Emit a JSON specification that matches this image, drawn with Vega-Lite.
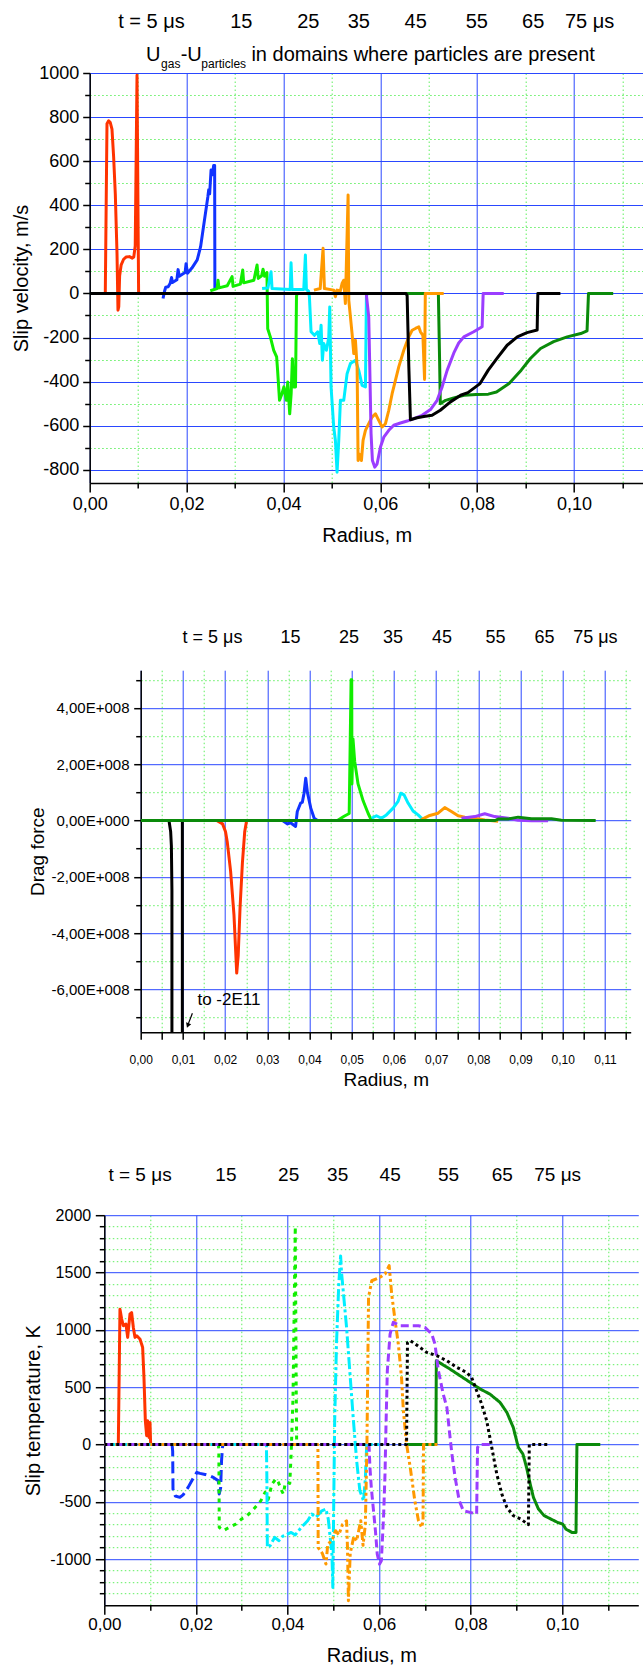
{
 "$schema": "https://vega.github.io/schema/vega-lite/v6.json",
 "background": "white",
 "padding": {"left": 0, "top": 11, "right": 0, "bottom": 0},
 "config": {
  "view": {"stroke": null},
  "axis": {"labelFont": "Liberation Sans", "titleFont": "Liberation Sans", "titleFontWeight": "normal", "labelColor": "#000", "titleColor": "#000", "labelFlush": false, "labelOverlap": false, "labelBound": false, "tickColor": "#000", "domainColor": "#000", "tickWidth": 1.5, "domainWidth": 1.5, "gridOpacity": 1},
  "text": {"font": "Liberation Sans", "color": "#000"},
  "line": {"strokeJoin": "round"}
 },
 "datasets": {
  "p1": [
   {"t":"t75","r":0,"v":0},{"t":"t75","r":0.072,"v":0},{"t":"t75","r":0.07225,"v":-300},{"t":"t75","r":0.0724,"v":-500},{"t":"t75","r":0.0735,"v":-485},{"t":"t75","r":0.075,"v":-475},{"t":"t75","r":0.0773,"v":-462},{"t":"t75","r":0.0798,"v":-459},{"t":"t75","r":0.0823,"v":-457},{"t":"t75","r":0.084,"v":-447},{"t":"t75","r":0.0866,"v":-409},{"t":"t75","r":0.0891,"v":-348},{"t":"t75","r":0.091,"v":-295},{"t":"t75","r":0.0931,"v":-250},{"t":"t75","r":0.0958,"v":-219},{"t":"t75","r":0.0986,"v":-197},{"t":"t75","r":0.1014,"v":-182},{"t":"t75","r":0.1027,"v":-170},{"t":"t75","r":0.103,"v":0},{"t":"t75","r":0.1081,"v":0},
   {"t":"t05","r":0.003,"v":0},{"t":"t05","r":0.00322,"v":0},{"t":"t05","r":0.00357,"v":770},{"t":"t05","r":0.00391,"v":783},{"t":"t05","r":0.00425,"v":775},{"t":"t05","r":0.0046,"v":745},{"t":"t05","r":0.00494,"v":620},{"t":"t05","r":0.00529,"v":450},{"t":"t05","r":0.00555,"v":250},{"t":"t05","r":0.00564,"v":180},{"t":"t05","r":0.00584,"v":-76},{"t":"t05","r":0.006,"v":-60},{"t":"t05","r":0.00618,"v":80},{"t":"t05","r":0.0065,"v":130},{"t":"t05","r":0.007,"v":155},{"t":"t05","r":0.0075,"v":165},{"t":"t05","r":0.0082,"v":167},{"t":"t05","r":0.0088,"v":160},{"t":"t05","r":0.0091,"v":165},{"t":"t05","r":0.0094,"v":215},{"t":"t05","r":0.00977,"v":990},{"t":"t05","r":0.0101,"v":0},
   {"t":"t15","r":0.01514,"v":-23},{"t":"t15","r":0.01545,"v":10},{"t":"t15","r":0.0157,"v":28},{"t":"t15","r":0.0162,"v":30},{"t":"t15","r":0.0166,"v":45},{"t":"t15","r":0.0169,"v":72},{"t":"t15","r":0.0171,"v":50},{"t":"t15","r":0.0175,"v":55},{"t":"t15","r":0.018,"v":62},{"t":"t15","r":0.01825,"v":108},{"t":"t15","r":0.0185,"v":78},{"t":"t15","r":0.0192,"v":88},{"t":"t15","r":0.0197,"v":95},{"t":"t15","r":0.0199,"v":135},{"t":"t15","r":0.0202,"v":92},{"t":"t15","r":0.0211,"v":115},{"t":"t15","r":0.0222,"v":152},{"t":"t15","r":0.0229,"v":212},{"t":"t15","r":0.0237,"v":333},{"t":"t15","r":0.0244,"v":439},{"t":"t15","r":0.02457,"v":470},{"t":"t15","r":0.02477,"v":452},{"t":"t15","r":0.02506,"v":560},{"t":"t15","r":0.02533,"v":538},{"t":"t15","r":0.0256,"v":580},{"t":"t15","r":0.0258,"v":580},{"t":"t15","r":0.02585,"v":15},
   {"t":"t25","r":0.0249,"v":12},{"t":"t25","r":0.0263,"v":22},{"t":"t25","r":0.0265,"v":60},{"t":"t25","r":0.0267,"v":25},{"t":"t25","r":0.0284,"v":35},{"t":"t25","r":0.0294,"v":76},{"t":"t25","r":0.0296,"v":32},{"t":"t25","r":0.0311,"v":42},{"t":"t25","r":0.0316,"v":106},{"t":"t25","r":0.0318,"v":48},{"t":"t25","r":0.0339,"v":60},{"t":"t25","r":0.03456,"v":129},{"t":"t25","r":0.0348,"v":68},{"t":"t25","r":0.0355,"v":80},{"t":"t25","r":0.0358,"v":110},{"t":"t25","r":0.0361,"v":78},{"t":"t25","r":0.0366,"v":95},{"t":"t25","r":0.03676,"v":-160},{"t":"t25","r":0.0373,"v":-197},{"t":"t25","r":0.038,"v":-258},{"t":"t25","r":0.0386,"v":-288},{"t":"t25","r":0.0388,"v":-349},{"t":"t25","r":0.0392,"v":-485},{"t":"t25","r":0.0397,"v":-455},{"t":"t25","r":0.0401,"v":-424},{"t":"t25","r":0.0406,"v":-485},{"t":"t25","r":0.0409,"v":-402},{"t":"t25","r":0.0413,"v":-546},{"t":"t25","r":0.0416,"v":-455},{"t":"t25","r":0.04185,"v":-296},{"t":"t25","r":0.0421,"v":-424},{"t":"t25","r":0.0425,"v":-424},{"t":"t25","r":0.0427,"v":-15},{"t":"t25","r":0.0428,"v":0},
   {"t":"t35","r":0.0356,"v":22},{"t":"t35","r":0.0368,"v":25},{"t":"t35","r":0.03745,"v":98},{"t":"t35","r":0.03765,"v":22},{"t":"t35","r":0.0414,"v":18},{"t":"t35","r":0.04158,"v":139},{"t":"t35","r":0.04178,"v":18},{"t":"t35","r":0.0442,"v":18},{"t":"t35","r":0.04454,"v":174},{"t":"t35","r":0.04475,"v":18},{"t":"t35","r":0.0452,"v":10},{"t":"t35","r":0.04537,"v":-15},{"t":"t35","r":0.04571,"v":-174},{"t":"t35","r":0.0464,"v":-190},{"t":"t35","r":0.04709,"v":-174},{"t":"t35","r":0.0475,"v":-227},{"t":"t35","r":0.04778,"v":-144},{"t":"t35","r":0.04805,"v":-303},{"t":"t35","r":0.04833,"v":-227},{"t":"t35","r":0.04888,"v":-258},{"t":"t35","r":0.04936,"v":-200},{"t":"t35","r":0.04957,"v":-61},{"t":"t35","r":0.04984,"v":-424},{"t":"t35","r":0.05039,"v":-606},{"t":"t35","r":0.05074,"v":-667},{"t":"t35","r":0.05108,"v":-811},{"t":"t35","r":0.05143,"v":-667},{"t":"t35","r":0.05177,"v":-485},{"t":"t35","r":0.05246,"v":-485},{"t":"t35","r":0.05315,"v":-364},{"t":"t35","r":0.05384,"v":-318},{"t":"t35","r":0.05487,"v":-303},{"t":"t35","r":0.05556,"v":-349},{"t":"t35","r":0.05625,"v":-417},{"t":"t35","r":0.05694,"v":-424},{"t":"t35","r":0.05714,"v":-15},{"t":"t35","r":0.05728,"v":0},
   {"t":"t45","r":0.0463,"v":15},{"t":"t45","r":0.0476,"v":22},{"t":"t45","r":0.04819,"v":205},{"t":"t45","r":0.04847,"v":22},{"t":"t45","r":0.0504,"v":15},{"t":"t45","r":0.05074,"v":-15},{"t":"t45","r":0.05108,"v":15},{"t":"t45","r":0.05177,"v":12},{"t":"t45","r":0.05211,"v":45},{"t":"t45","r":0.05246,"v":60},{"t":"t45","r":0.0528,"v":-46},{"t":"t45","r":0.05336,"v":447},{"t":"t45","r":0.0535,"v":-30},{"t":"t45","r":0.05384,"v":-106},{"t":"t45","r":0.05418,"v":-182},{"t":"t45","r":0.05453,"v":-273},{"t":"t45","r":0.05487,"v":-212},{"t":"t45","r":0.05522,"v":-333},{"t":"t45","r":0.05542,"v":-758},{"t":"t45","r":0.05577,"v":-730},{"t":"t45","r":0.05611,"v":-758},{"t":"t45","r":0.05645,"v":-667},{"t":"t45","r":0.05694,"v":-621},{"t":"t45","r":0.05762,"v":-591},{"t":"t45","r":0.05831,"v":-561},{"t":"t45","r":0.059,"v":-546},{"t":"t45","r":0.05969,"v":-576},{"t":"t45","r":0.06038,"v":-606},{"t":"t45","r":0.06107,"v":-591},{"t":"t45","r":0.06176,"v":-530},{"t":"t45","r":0.06245,"v":-455},{"t":"t45","r":0.06313,"v":-394},{"t":"t45","r":0.06382,"v":-333},{"t":"t45","r":0.06486,"v":-258},{"t":"t45","r":0.06589,"v":-197},{"t":"t45","r":0.06658,"v":-167},{"t":"t45","r":0.06727,"v":-159},{"t":"t45","r":0.06796,"v":-152},{"t":"t45","r":0.0683,"v":-174},{"t":"t45","r":0.0688,"v":-190},{"t":"t45","r":0.06915,"v":-390},{"t":"t45","r":0.0693,"v":0},{"t":"t45","r":0.0731,"v":0},
   {"t":"t55","r":0.0571,"v":0},{"t":"t55","r":0.05762,"v":-106},{"t":"t55","r":0.05783,"v":-333},{"t":"t55","r":0.0581,"v":-636},{"t":"t55","r":0.05838,"v":-758},{"t":"t55","r":0.05887,"v":-788},{"t":"t55","r":0.05935,"v":-773},{"t":"t55","r":0.06004,"v":-697},{"t":"t55","r":0.06073,"v":-652},{"t":"t55","r":0.06176,"v":-621},{"t":"t55","r":0.06279,"v":-598},{"t":"t55","r":0.06417,"v":-588},{"t":"t55","r":0.06555,"v":-579},{"t":"t55","r":0.06692,"v":-568},{"t":"t55","r":0.06864,"v":-553},{"t":"t55","r":0.07037,"v":-527},{"t":"t55","r":0.07174,"v":-485},{"t":"t55","r":0.07278,"v":-424},{"t":"t55","r":0.07381,"v":-349},{"t":"t55","r":0.07519,"v":-270},{"t":"t55","r":0.0762,"v":-225},{"t":"t55","r":0.07726,"v":-197},{"t":"t55","r":0.0793,"v":-174},{"t":"t55","r":0.08104,"v":-151},{"t":"t55","r":0.08125,"v":0},{"t":"t55","r":0.0855,"v":0},
   {"t":"t65","r":0,"v":0},{"t":"t65","r":0.0653,"v":0},{"t":"t65","r":0.06555,"v":-10},{"t":"t65","r":0.0659,"v":-333},{"t":"t65","r":0.06623,"v":-573},{"t":"t65","r":0.0676,"v":-564},{"t":"t65","r":0.069,"v":-558},{"t":"t65","r":0.0707,"v":-553},{"t":"t65","r":0.0724,"v":-530},{"t":"t65","r":0.0745,"v":-492},{"t":"t65","r":0.0766,"v":-462},{"t":"t65","r":0.0781,"v":-450},{"t":"t65","r":0.0806,"v":-409},{"t":"t65","r":0.0823,"v":-348},{"t":"t65","r":0.0841,"v":-295},{"t":"t65","r":0.0862,"v":-235},{"t":"t65","r":0.0883,"v":-197},{"t":"t65","r":0.0903,"v":-178},{"t":"t65","r":0.0924,"v":-166},{"t":"t65","r":0.09254,"v":0},{"t":"t65","r":0.0972,"v":0}
  ],
  "p2": [
   {"t":"t65","r":0,"v":0},{"t":"t65","r":0.0067,"v":0},{"t":"t65","r":0.0071,"v":-4e7},{"t":"t65","r":0.00727,"v":-9e7},{"t":"t65","r":0.0074,"v":-2.5e8},{"t":"t65","r":0.0075,"v":-2e11},{"t":"t65","r":0.0098,"v":-2e11},{"t":"t65","r":0.00987,"v":0},{"t":"t65","r":0.0105,"v":0},
   {"t":"t05","r":0.018,"v":0},{"t":"t05","r":0.0194,"v":-1.2e7},{"t":"t05","r":0.0201,"v":-4e7},{"t":"t05","r":0.0205,"v":-7.5e7},{"t":"t05","r":0.0213,"v":-1.8e8},{"t":"t05","r":0.0221,"v":-3.35e8},{"t":"t05","r":0.02275,"v":-5.42e8},{"t":"t05","r":0.0231,"v":-4.8e8},{"t":"t05","r":0.02354,"v":-3.1e8},{"t":"t05","r":0.0241,"v":-1.5e8},{"t":"t05","r":0.02464,"v":-4e7},{"t":"t05","r":0.0251,"v":0},
   {"t":"t15","r":0.0336,"v":0},{"t":"t15","r":0.0348,"v":-1.2e7},{"t":"t15","r":0.0355,"v":-8e6},{"t":"t15","r":0.0367,"v":-2.1e7},{"t":"t15","r":0.0371,"v":3.2e7},{"t":"t15","r":0.0379,"v":6.2e7},{"t":"t15","r":0.0383,"v":6.5e7},{"t":"t15","r":0.0387,"v":9.7e7},{"t":"t15","r":0.0391,"v":1.5e8},{"t":"t15","r":0.0395,"v":1.0e8},{"t":"t15","r":0.0403,"v":4.4e7},{"t":"t15","r":0.0411,"v":8e6},{"t":"t15","r":0.0419,"v":0},
   {"t":"t25","r":0.0466,"v":0},{"t":"t25","r":0.0482,"v":1.5e7},{"t":"t25","r":0.0494,"v":2.5e7},{"t":"t25","r":0.04985,"v":5.0e8},{"t":"t25","r":0.05,"v":5.0e8},{"t":"t25","r":0.05005,"v":1.3e8},{"t":"t25","r":0.0503,"v":2.9e8},{"t":"t25","r":0.0507,"v":2.1e8},{"t":"t25","r":0.0515,"v":1.3e8},{"t":"t25","r":0.0527,"v":7e7},{"t":"t25","r":0.0539,"v":2.5e7},{"t":"t25","r":0.0547,"v":0},
   {"t":"t35","r":0.0547,"v":8e6},{"t":"t35","r":0.05585,"v":1.7e7},{"t":"t35","r":0.05703,"v":8e6},{"t":"t35","r":0.05822,"v":2e7},{"t":"t35","r":0.0598,"v":4.4e7},{"t":"t35","r":0.06098,"v":6.8e7},{"t":"t35","r":0.06161,"v":9.7e7},{"t":"t35","r":0.0624,"v":9.1e7},{"t":"t35","r":0.06335,"v":6.2e7},{"t":"t35","r":0.06453,"v":3.4e7},{"t":"t35","r":0.06572,"v":2e7},{"t":"t35","r":0.0669,"v":3e6},
   {"t":"t45","r":0.0665,"v":3e6},{"t":"t45","r":0.06848,"v":1.8e7},{"t":"t45","r":0.07046,"v":2.6e7},{"t":"t45","r":0.07204,"v":4.6e7},{"t":"t45","r":0.07362,"v":3.2e7},{"t":"t45","r":0.0752,"v":1.7e7},{"t":"t45","r":0.07678,"v":1.2e7},{"t":"t45","r":0.07915,"v":8e6},{"t":"t45","r":0.08152,"v":2e6},{"t":"t45","r":0.0847,"v":-3e6},
   {"t":"t55","r":0.076,"v":8e6},{"t":"t55","r":0.07915,"v":1.4e7},{"t":"t55","r":0.08152,"v":2.4e7},{"t":"t55","r":0.08389,"v":1.4e7},{"t":"t55","r":0.08705,"v":8e6},{"t":"t55","r":0.08942,"v":1e6},{"t":"t55","r":0.09258,"v":-1e6},{"t":"t55","r":0.09653,"v":-1e6},
   {"t":"t75","r":0,"v":0},{"t":"t75","r":0.084,"v":0},{"t":"t75","r":0.08468,"v":5e6},{"t":"t75","r":0.087,"v":5e6},{"t":"t75","r":0.08942,"v":1.2e7},{"t":"t75","r":0.09258,"v":6e6},{"t":"t75","r":0.09732,"v":6e6},{"t":"t75","r":0.09968,"v":1e6},{"t":"t75","r":0.1078,"v":0}
  ],
  "p3": [
   {"t":"t75","r":0.066,"v":0},{"t":"t75","r":0.0724,"v":0},{"t":"t75","r":0.0725,"v":730},{"t":"t75","r":0.0737,"v":701},{"t":"t75","r":0.0755,"v":657},{"t":"t75","r":0.0777,"v":599},{"t":"t75","r":0.0799,"v":541},{"t":"t75","r":0.0821,"v":483},{"t":"t75","r":0.0842,"v":439},{"t":"t75","r":0.0864,"v":367},{"t":"t75","r":0.0879,"v":279},{"t":"t75","r":0.0893,"v":148},{"t":"t75","r":0.0904,"v":-26},{"t":"t75","r":0.0914,"v":-84},{"t":"t75","r":0.0922,"v":-201},{"t":"t75","r":0.093,"v":-346},{"t":"t75","r":0.0937,"v":-462},{"t":"t75","r":0.0948,"v":-564},{"t":"t75","r":0.096,"v":-620},{"t":"t75","r":0.0968,"v":-637},{"t":"t75","r":0.099,"v":-681},{"t":"t75","r":0.1001,"v":-695},{"t":"t75","r":0.1008,"v":-739},{"t":"t75","r":0.1021,"v":-768},{"t":"t75","r":0.103,"v":-768},{"t":"t75","r":0.1032,"v":0},{"t":"t75","r":0.1083,"v":0},
   {"t":"t05","r":0.003,"v":0},{"t":"t05","r":0.00306,"v":0},{"t":"t05","r":0.00342,"v":1180},{"t":"t05","r":0.00379,"v":1094},{"t":"t05","r":0.00415,"v":1036},{"t":"t05","r":0.00473,"v":1050},{"t":"t05","r":0.0051,"v":934},{"t":"t05","r":0.00561,"v":1138},{"t":"t05","r":0.00597,"v":1150},{"t":"t05","r":0.00634,"v":1021},{"t":"t05","r":0.0067,"v":934},{"t":"t05","r":0.00707,"v":948},{"t":"t05","r":0.00779,"v":919},{"t":"t05","r":0.00837,"v":847},{"t":"t05","r":0.00866,"v":585},{"t":"t05","r":0.00896,"v":207},{"t":"t05","r":0.00925,"v":76},{"t":"t05","r":0.00947,"v":207},{"t":"t05","r":0.00976,"v":61},{"t":"t05","r":0.00998,"v":192},{"t":"t05","r":0.01012,"v":0},
   {"t":"t15","r":0.0148,"v":0},{"t":"t15","r":0.01493,"v":-60},{"t":"t15","r":0.015,"v":-390},{"t":"t15","r":0.0155,"v":-450},{"t":"t15","r":0.0165,"v":-462},{"t":"t15","r":0.0172,"v":-440},{"t":"t15","r":0.0179,"v":-400},{"t":"t15","r":0.0183,"v":-375},{"t":"t15","r":0.0195,"v":-288},{"t":"t15","r":0.0202,"v":-244},{"t":"t15","r":0.0209,"v":-253},{"t":"t15","r":0.022,"v":-262},{"t":"t15","r":0.0231,"v":-275},{"t":"t15","r":0.0239,"v":-290},{"t":"t15","r":0.0249,"v":-317},{"t":"t15","r":0.0251,"v":-433},{"t":"t15","r":0.0254,"v":-380},{"t":"t15","r":0.0256,"v":-142},{"t":"t15","r":0.0258,"v":-30},{"t":"t15","r":0.0259,"v":0},
   {"t":"t25","r":0.0249,"v":0},{"t":"t25","r":0.025,"v":-40},{"t":"t25","r":0.02505,"v":-300},{"t":"t25","r":0.0251,"v":-724},{"t":"t25","r":0.026,"v":-753},{"t":"t25","r":0.027,"v":-730},{"t":"t25","r":0.0287,"v":-695},{"t":"t25","r":0.03,"v":-650},{"t":"t25","r":0.0308,"v":-637},{"t":"t25","r":0.0323,"v":-579},{"t":"t25","r":0.0336,"v":-520},{"t":"t25","r":0.0342,"v":-490},{"t":"t25","r":0.0351,"v":-419},{"t":"t25","r":0.0358,"v":-480},{"t":"t25","r":0.0366,"v":-346},{"t":"t25","r":0.0375,"v":-300},{"t":"t25","r":0.038,"v":-330},{"t":"t25","r":0.0388,"v":-410},{"t":"t25","r":0.0391,"v":-433},{"t":"t25","r":0.0395,"v":-340},{"t":"t25","r":0.04,"v":-330},{"t":"t25","r":0.0405,"v":-340},{"t":"t25","r":0.0408,"v":-80},{"t":"t25","r":0.0412,"v":400},{"t":"t25","r":0.0414,"v":1000},{"t":"t25","r":0.0417,"v":1900},{"t":"t25","r":0.0418,"v":1200},{"t":"t25","r":0.0419,"v":500},{"t":"t25","r":0.04195,"v":260},{"t":"t25","r":0.042,"v":0},{"t":"t25","r":0.0425,"v":0},
   {"t":"t35","r":0,"v":0},{"t":"t35","r":0.0354,"v":0},{"t":"t35","r":0.0355,"v":-300},{"t":"t35","r":0.0356,"v":-900},{"t":"t35","r":0.0362,"v":-884},{"t":"t35","r":0.0372,"v":-811},{"t":"t35","r":0.0381,"v":-840},{"t":"t35","r":0.039,"v":-800},{"t":"t35","r":0.0408,"v":-768},{"t":"t35","r":0.0417,"v":-790},{"t":"t35","r":0.043,"v":-724},{"t":"t35","r":0.0444,"v":-666},{"t":"t35","r":0.0453,"v":-608},{"t":"t35","r":0.0462,"v":-637},{"t":"t35","r":0.0475,"v":-579},{"t":"t35","r":0.0484,"v":-564},{"t":"t35","r":0.0489,"v":-650},{"t":"t35","r":0.0497,"v":-957},{"t":"t35","r":0.0499,"v":-1248},{"t":"t35","r":0.0501,"v":-500},{"t":"t35","r":0.0503,"v":200},{"t":"t35","r":0.0507,"v":876},{"t":"t35","r":0.0512,"v":1400},{"t":"t35","r":0.0516,"v":1645},{"t":"t35","r":0.0518,"v":1500},{"t":"t35","r":0.0529,"v":1021},{"t":"t35","r":0.0537,"v":585},{"t":"t35","r":0.0544,"v":207},{"t":"t35","r":0.0551,"v":-142},{"t":"t35","r":0.0558,"v":-404},{"t":"t35","r":0.0566,"v":-491},{"t":"t35","r":0.057,"v":-300},{"t":"t35","r":0.0573,"v":0},{"t":"t35","r":0.06,"v":0},
   {"t":"t45","r":0,"v":0},{"t":"t45","r":0.0466,"v":0},{"t":"t45","r":0.04665,"v":-55},{"t":"t45","r":0.0467,"v":-900},{"t":"t45","r":0.0476,"v":-950},{"t":"t45","r":0.0484,"v":-1044},{"t":"t45","r":0.0488,"v":-870},{"t":"t45","r":0.0497,"v":-840},{"t":"t45","r":0.0505,"v":-753},{"t":"t45","r":0.0512,"v":-790},{"t":"t45","r":0.052,"v":-700},{"t":"t45","r":0.0529,"v":-666},{"t":"t45","r":0.0531,"v":-900},{"t":"t45","r":0.0533,"v":-1364},{"t":"t45","r":0.0537,"v":-950},{"t":"t45","r":0.0545,"v":-800},{"t":"t45","r":0.0551,"v":-840},{"t":"t45","r":0.056,"v":-666},{"t":"t45","r":0.0565,"v":-880},{"t":"t45","r":0.057,"v":-700},{"t":"t45","r":0.05734,"v":-26},{"t":"t45","r":0.0577,"v":1283},{"t":"t45","r":0.0584,"v":1428},{"t":"t45","r":0.0602,"v":1458},{"t":"t45","r":0.0613,"v":1487},{"t":"t45","r":0.0622,"v":1560},{"t":"t45","r":0.06275,"v":1312},{"t":"t45","r":0.0635,"v":1079},{"t":"t45","r":0.0642,"v":876},{"t":"t45","r":0.0649,"v":585},{"t":"t45","r":0.0653,"v":294},{"t":"t45","r":0.066,"v":3},{"t":"t45","r":0.0668,"v":-201},{"t":"t45","r":0.0678,"v":-491},{"t":"t45","r":0.0686,"v":-666},{"t":"t45","r":0.0693,"v":-724},{"t":"t45","r":0.0696,"v":-666},{"t":"t45","r":0.0697,"v":0},{"t":"t45","r":0.0728,"v":0},
   {"t":"t55","r":0,"v":0},{"t":"t55","r":0.0578,"v":0},{"t":"t55","r":0.058,"v":-200},{"t":"t55","r":0.0583,"v":-375},{"t":"t55","r":0.0592,"v":-753},{"t":"t55","r":0.0596,"v":-957},{"t":"t55","r":0.0601,"v":-1044},{"t":"t55","r":0.0605,"v":-1015},{"t":"t55","r":0.061,"v":-608},{"t":"t55","r":0.0613,"v":-250},{"t":"t55","r":0.0615,"v":148},{"t":"t55","r":0.0618,"v":643},{"t":"t55","r":0.0624,"v":963},{"t":"t55","r":0.0631,"v":1065},{"t":"t55","r":0.0646,"v":1036},{"t":"t55","r":0.066,"v":1036},{"t":"t55","r":0.0686,"v":1036},{"t":"t55","r":0.07,"v":1021},{"t":"t55","r":0.0715,"v":963},{"t":"t55","r":0.0722,"v":876},{"t":"t55","r":0.07295,"v":643},{"t":"t55","r":0.074,"v":439},{"t":"t55","r":0.0748,"v":323},{"t":"t55","r":0.0755,"v":61},{"t":"t55","r":0.0759,"v":-84},{"t":"t55","r":0.0766,"v":-288},{"t":"t55","r":0.0775,"v":-491},{"t":"t55","r":0.0784,"v":-579},{"t":"t55","r":0.0799,"v":-593},{"t":"t55","r":0.0813,"v":-608},{"t":"t55","r":0.0815,"v":-26},{"t":"t55","r":0.082,"v":0},{"t":"t55","r":0.0846,"v":0},
   {"t":"t65","r":0,"v":0},{"t":"t65","r":0.066,"v":0},{"t":"t65","r":0.0662,"v":890},{"t":"t65","r":0.0668,"v":905},{"t":"t65","r":0.0679,"v":876},{"t":"t65","r":0.0689,"v":847},{"t":"t65","r":0.0704,"v":803},{"t":"t65","r":0.0726,"v":774},{"t":"t65","r":0.0748,"v":730},{"t":"t65","r":0.077,"v":672},{"t":"t65","r":0.0791,"v":628},{"t":"t65","r":0.0802,"v":585},{"t":"t65","r":0.0813,"v":468},{"t":"t65","r":0.0824,"v":352},{"t":"t65","r":0.0835,"v":207},{"t":"t65","r":0.0846,"v":-26},{"t":"t65","r":0.0857,"v":-259},{"t":"t65","r":0.0868,"v":-433},{"t":"t65","r":0.0879,"v":-550},{"t":"t65","r":0.0893,"v":-622},{"t":"t65","r":0.0909,"v":-651},{"t":"t65","r":0.0926,"v":-700},{"t":"t65","r":0.0928,"v":0},{"t":"t65","r":0.0968,"v":0}
  ],
  "lab1": [{"txt":"t = 5 μs","r":0.01275,"v":1232},{"txt":"15","r":0.0313,"v":1232},{"txt":"25","r":0.04514,"v":1232},{"txt":"35","r":0.05558,"v":1232},{"txt":"45","r":0.06731,"v":1232},{"txt":"55","r":0.07994,"v":1232},{"txt":"65","r":0.09159,"v":1232},{"txt":"75 μs","r":0.10322,"v":1232}],
  "sub1a": [{"txt":"U","r":0.01161,"v":1080},{"txt":"-U","r":0.01878,"v":1080},{"txt":"in domains where particles are present","r":0.03339,"v":1080}],
  "sub1b": [{"txt":"gas","r":0.01474,"v":1040},{"txt":"particles","r":0.02306,"v":1040}],
  "lab2": [{"txt":"t = 5 μs","r":0.01701,"v":6.5e8},{"txt":"15","r":0.03552,"v":6.5e8},{"txt":"25","r":0.04934,"v":6.5e8},{"txt":"35","r":0.05976,"v":6.5e8},{"txt":"45","r":0.07142,"v":6.5e8},{"txt":"55","r":0.08405,"v":6.5e8},{"txt":"65","r":0.09566,"v":6.5e8},{"txt":"75 μs","r":0.10773,"v":6.5e8}],
  "ann2": [{"txt":"to -2E11","r":0.01344,"v":-6.39e8}],
  "arr2": [{"r":0.01225,"v":-6.85e8,"r2":0.0112,"v2":-7.25e8}],
  "head2": [{"r":0.01116,"v":-7.28e8}],
  "lab3": [{"txt":"t = 5 μs","r":0.0078,"v":2349},{"txt":"15","r":0.02655,"v":2349},{"txt":"25","r":0.04026,"v":2349},{"txt":"35","r":0.05096,"v":2349},{"txt":"45","r":0.06242,"v":2349},{"txt":"55","r":0.07518,"v":2349},{"txt":"65","r":0.0869,"v":2349},{"txt":"75 μs","r":0.099,"v":2349}]
 },
 "spacing": 76.2,
 "vconcat": [
  {
   "spacing": 82.2,
   "vconcat": [
    {
     "spacing": 10.7,
     "hconcat": [
      {"width": 1, "height": 1, "data": {"values": [{}]}, "mark": {"type": "rect", "opacity": 0}},
      {
       "width": 554, "height": 410,
       "layer": [
        {"data": {"name": "p1"}, "mark": {"type": "line", "opacity": 0, "clip": true},
         "encoding": {
          "x": {"field": "r", "type": "quantitative", "scale": {"domain": [0, 0.1144], "nice": false},
                "axis": {"orient": "bottom", "values": [0.01,0.03,0.05,0.07,0.09,0.11], "labels": false, "title": null, "domain": false, "grid": true, "gridColor": "#5fef5f", "gridDash": [1.5,2.5], "gridWidth": 1, "tickSize": 5}},
          "y": {"field": "v", "type": "quantitative", "scale": {"domain": [-860, 1000], "nice": false},
                "axis": {"orient": "left", "values": [-700,-500,-300,-100,100,300,500,700,900], "labels": false, "title": null, "domain": false, "grid": true, "gridColor": "#5fef5f", "gridDash": [1.5,2.5], "gridWidth": 1, "tickSize": 5}},
          "detail": {"field": "t"}, "order": {"value": null}}},
        {"data": {"name": "p1"}, "mark": {"type": "line", "clip": true},
         "encoding": {
          "x": {"field": "r", "type": "quantitative", "scale": {"domain": [0, 0.1144], "nice": false},
                "axis": {"orient": "bottom", "values": [0,0.02,0.04,0.06,0.08,0.1], "labelExpr": "replace(format(datum.value,'.2f'),'.',',')", "grid": true, "gridColor": "#2a48ff", "gridWidth": 1, "tickSize": 9, "labelFontSize": 18, "labelPadding": 3.7, "title": "Radius, m", "titleFontSize": 20, "titlePadding": 11.8}},
          "y": {"field": "v", "type": "quantitative", "scale": {"domain": [-860, 1000], "nice": false},
                "axis": {"orient": "left", "values": [-800,-600,-400,-200,0,200,400,600,800,1000], "labelExpr": "datum.value < 0 ? '-' + abs(datum.value) : '' + datum.value", "grid": true, "gridColor": "#2a48ff", "gridWidth": 1, "tickSize": 7, "labelFontSize": 18, "labelPadding": 4, "minExtent": 52, "title": "Slip velocity, m/s", "titleFontSize": 20, "titlePadding": 5.7}},
          "color": {"field": "t", "type": "nominal", "legend": null, "scale": {"domain": ["t05","t15","t25","t35","t45","t55","t65","t75"], "range": ["#ff3300","#1133ff","#11ee00","#00eeff","#ff9900","#9b3dff","#000000","#0a8a0a"]}},
          "strokeWidth": {"field": "t", "type": "ordinal", "legend": null, "scale": {"domain": ["t05","t15","t25","t35","t45","t55","t65","t75"], "range": [3,3,3,3,3,3,4,3]}},
          "order": {"value": null}}},
        {"data": {"name": "lab1"}, "mark": {"type": "text", "fontSize": 20, "align": "center", "baseline": "middle"},
         "encoding": {
          "x": {"field": "r", "type": "quantitative", "scale": {"domain": [0, 0.1144], "nice": false}, "axis": null},
          "y": {"field": "v", "type": "quantitative", "scale": {"domain": [-860, 1000], "nice": false}, "axis": null},
          "text": {"field": "txt"}}},
        {"data": {"name": "sub1a"}, "mark": {"type": "text", "fontSize": 20, "align": "left", "baseline": "middle"},
         "encoding": {
          "x": {"field": "r", "type": "quantitative", "scale": {"domain": [0, 0.1144], "nice": false}, "axis": null},
          "y": {"field": "v", "type": "quantitative", "scale": {"domain": [-860, 1000], "nice": false}, "axis": null},
          "text": {"field": "txt"}}},
        {"data": {"name": "sub1b"}, "mark": {"type": "text", "fontSize": 12, "align": "left", "baseline": "middle"},
         "encoding": {
          "x": {"field": "r", "type": "quantitative", "scale": {"domain": [0, 0.1144], "nice": false}, "axis": null},
          "y": {"field": "v", "type": "quantitative", "scale": {"domain": [-860, 1000], "nice": false}, "axis": null},
          "text": {"field": "txt"}}}
       ],
       "resolve": {"axis": {"x": "independent", "y": "independent"}}
      }
     ]
    },
    {
     "spacing": 26.7,
     "hconcat": [
      {"width": 1, "height": 1, "data": {"values": [{}]}, "mark": {"type": "rect", "opacity": 0}},
      {
       "width": 490, "height": 362,
       "layer": [
        {"data": {"name": "p2"}, "mark": {"type": "line", "opacity": 0, "clip": true},
         "encoding": {
          "x": {"field": "r", "type": "quantitative", "scale": {"domain": [0, 0.1161], "nice": false},
                "axis": {"orient": "bottom", "values": [0.005,0.015,0.025,0.035,0.045,0.055,0.065,0.075,0.085,0.095,0.105,0.115], "labels": false, "title": null, "domain": false, "grid": true, "gridColor": "#5fef5f", "gridDash": [1.5,2.5], "gridWidth": 1, "tickSize": 7}},
          "y": {"field": "v", "type": "quantitative", "scale": {"domain": [-7.52e8, 5.34e8], "nice": false},
                "axis": {"orient": "left", "values": [-7e8,-5e8,-3e8,-1e8,1e8,3e8,5e8], "labels": false, "title": null, "domain": false, "grid": true, "gridColor": "#5fef5f", "gridDash": [1.5,2.5], "gridWidth": 1, "tickSize": 5}},
          "detail": {"field": "t"}, "order": {"value": null}}},
        {"data": {"name": "p2"}, "mark": {"type": "line", "clip": true},
         "encoding": {
          "x": {"field": "r", "type": "quantitative", "scale": {"domain": [0, 0.1161], "nice": false},
                "axis": {"orient": "bottom", "values": [0,0.01,0.02,0.03,0.04,0.05,0.06,0.07,0.08,0.09,0.1,0.11], "labelExpr": "replace(format(datum.value,'.2f'),'.',',')", "grid": true, "gridColor": "#2a48ff", "gridWidth": 1, "tickSize": 7, "labelFontSize": 12, "labelPadding": 15, "title": "Radius, m", "titleFontSize": 19, "titlePadding": 5.6}},
          "y": {"field": "v", "type": "quantitative", "scale": {"domain": [-7.52e8, 5.34e8], "nice": false},
                "axis": {"orient": "left", "values": [-6e8,-4e8,-2e8,0,2e8,4e8], "labelExpr": "datum.value == 0 ? '0,00E+000' : (datum.value < 0 ? '-' : '') + replace(format(abs(datum.value) / 1e8, '.2f'), '.', ',') + 'E+008'", "grid": true, "gridColor": "#2a48ff", "gridWidth": 1, "tickSize": 7, "labelFontSize": 15, "labelPadding": 4.7, "minExtent": 90, "title": "Drag force", "titleFontSize": 19, "titlePadding": 3.3}},
          "color": {"field": "t", "type": "nominal", "legend": null, "scale": {"domain": ["t05","t15","t25","t35","t45","t55","t65","t75"], "range": ["#ff3300","#1133ff","#11ee00","#00eeff","#ff9900","#9b3dff","#000000","#0a8a0a"]}},
          "strokeWidth": {"field": "t", "type": "ordinal", "legend": null, "scale": {"domain": ["t05","t15","t25","t35","t45","t55","t65","t75"], "range": [3,3,3,3,3,3,3,4]}},
          "order": {"value": null}}},
        {"data": {"name": "lab2"}, "mark": {"type": "text", "fontSize": 18, "align": "center", "baseline": "middle"},
         "encoding": {
          "x": {"field": "r", "type": "quantitative", "scale": {"domain": [0, 0.1161], "nice": false}, "axis": null},
          "y": {"field": "v", "type": "quantitative", "scale": {"domain": [-7.52e8, 5.34e8], "nice": false}, "axis": null},
          "text": {"field": "txt"}}},
        {"data": {"name": "ann2"}, "mark": {"type": "text", "fontSize": 17, "align": "left", "baseline": "middle"},
         "encoding": {
          "x": {"field": "r", "type": "quantitative", "scale": {"domain": [0, 0.1161], "nice": false}, "axis": null},
          "y": {"field": "v", "type": "quantitative", "scale": {"domain": [-7.52e8, 5.34e8], "nice": false}, "axis": null},
          "text": {"field": "txt"}}},
        {"data": {"name": "arr2"}, "mark": {"type": "rule", "strokeWidth": 1.2, "color": "#000"},
         "encoding": {
          "x": {"field": "r", "type": "quantitative", "scale": {"domain": [0, 0.1161], "nice": false}, "axis": null},
          "y": {"field": "v", "type": "quantitative", "scale": {"domain": [-7.52e8, 5.34e8], "nice": false}, "axis": null},
          "x2": {"field": "r2"}, "y2": {"field": "v2"}}},
        {"data": {"name": "head2"}, "mark": {"type": "point", "shape": "triangle-down", "size": 30, "filled": true, "opacity": 1, "color": "#000", "angle": 21},
         "encoding": {
          "x": {"field": "r", "type": "quantitative", "scale": {"domain": [0, 0.1161], "nice": false}, "axis": null},
          "y": {"field": "v", "type": "quantitative", "scale": {"domain": [-7.52e8, 5.34e8], "nice": false}, "axis": null}}}
       ],
       "resolve": {"axis": {"x": "independent", "y": "independent"}}
      }
     ]
    }
   ]
  },
  {
   "spacing": 22.3,
   "hconcat": [
    {"width": 1, "height": 1, "data": {"values": [{}]}, "mark": {"type": "rect", "opacity": 0}},
    {
     "width": 534, "height": 390,
     "layer": [
      {"data": {"name": "p3"}, "mark": {"type": "line", "opacity": 0, "clip": true},
       "encoding": {
        "x": {"field": "r", "type": "quantitative", "scale": {"domain": [0, 0.1166], "nice": false},
              "axis": {"orient": "bottom", "values": [0.01,0.03,0.05,0.07,0.09,0.11], "labels": false, "title": null, "domain": false, "grid": true, "gridColor": "#5fef5f", "gridDash": [1.5,2.5], "gridWidth": 1, "tickSize": 5}},
        "y": {"field": "v", "type": "quantitative", "scale": {"domain": [-1403, 2000], "nice": false},
              "axis": {"orient": "left", "values": [-1300,-1200,-1100,-900,-800,-700,-600,-400,-300,-200,-100,100,200,300,400,600,700,800,900,1100,1200,1300,1400,1600,1700,1800,1900], "labels": false, "title": null, "domain": false, "grid": true, "gridColor": "#5fef5f", "gridDash": [1.5,2.5], "gridWidth": 1, "tickSize": 5}},
        "detail": {"field": "t"}, "order": {"value": null}}},
      {"data": {"name": "p3"}, "mark": {"type": "line", "strokeWidth": 3, "clip": true},
       "encoding": {
        "x": {"field": "r", "type": "quantitative", "scale": {"domain": [0, 0.1166], "nice": false},
              "axis": {"orient": "bottom", "values": [0,0.02,0.04,0.06,0.08,0.1], "labelExpr": "replace(format(datum.value,'.2f'),'.',',')", "grid": true, "gridColor": "#2a48ff", "gridWidth": 1, "tickSize": 9, "labelFontSize": 17, "labelPadding": 2.1, "title": "Radius, m", "titleFontSize": 20, "titlePadding": 12.8}},
        "y": {"field": "v", "type": "quantitative", "scale": {"domain": [-1403, 2000], "nice": false},
              "axis": {"orient": "left", "values": [-1000,-500,0,500,1000,1500,2000], "labelExpr": "datum.value < 0 ? '-' + abs(datum.value) : '' + datum.value", "grid": true, "gridColor": "#2a48ff", "gridWidth": 1, "tickSize": 9, "labelFontSize": 16, "labelPadding": 4.6, "minExtent": 55, "title": "Slip temperature, K", "titleFontSize": 20, "titlePadding": 6}},
        "color": {"field": "t", "type": "nominal", "legend": null, "scale": {"domain": ["t05","t15","t25","t35","t45","t55","t65","t75"], "range": ["#ff3300","#1133ff","#11ee00","#00eeff","#ff9900","#9b3dff","#000000","#0a8a0a"]}},
        "strokeDash": {"field": "t", "type": "nominal", "legend": null, "scale": {"domain": ["t05","t15","t25","t35","t45","t55","t65","t75"], "range": [[1,0],[12,5],[4,5],[12,3,3,3],[8,3,3,3,3,3],[8,4],[3,3],[1,0]]}},
        "order": {"value": null}}},
      {"data": {"name": "lab3"}, "mark": {"type": "text", "fontSize": 19, "align": "center", "baseline": "middle"},
       "encoding": {
        "x": {"field": "r", "type": "quantitative", "scale": {"domain": [0, 0.1166], "nice": false}, "axis": null},
        "y": {"field": "v", "type": "quantitative", "scale": {"domain": [-1403, 2000], "nice": false}, "axis": null},
        "text": {"field": "txt"}}}
     ],
     "resolve": {"axis": {"x": "independent", "y": "independent"}}
    }
   ]
  }
 ]
}
